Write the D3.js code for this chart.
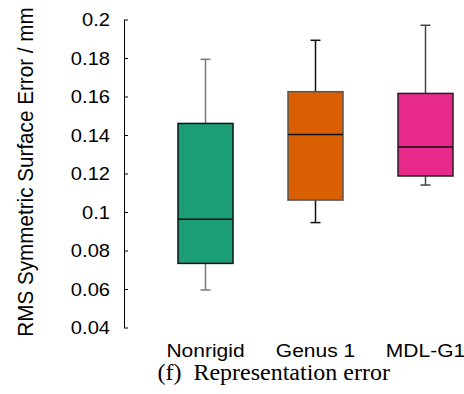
<!DOCTYPE html>
<html>
<head>
<meta charset="utf-8">
<script src="https://cdn.jsdelivr.net/npm/d3@7"></script>
<style>
  html, body { margin: 0; padding: 0; background: #fff; }
  svg { display: block; }
  text { white-space: pre; }
</style>
</head>
<body>
<svg id="chart" width="464" height="394"></svg>
<script>
// ---- data ----
const categories = ["Nonrigid", "Genus 1", "MDL-G1"];
const whiskerLow  = [0.0595, 0.0945, 0.1140];
const q1          = [0.0733, 0.1062, 0.1187];
const median      = [0.0962, 0.1403, 0.1338];
const q3          = [0.1460, 0.1625, 0.1616];
const whiskerHigh = [0.1793, 0.1892, 0.1970];
const colors      = ["#1b9e77", "#d95f02", "#e7298a"];
const whiskerColors = ["#7a7a7a", "#111111", "#444444"];
const boxStrokes  = ["#111111", "#555555", "#222222"];
const yTicks = [0.04, 0.06, 0.08, 0.1, 0.12, 0.14, 0.16, 0.18, 0.2];
const yLabel = "RMS Symmetric Surface Error / mm";
const caption = "(f)  Representation error";

const svg = d3.select("#chart");

const y = d3.scaleLinear().domain([0.04, 0.2]).range([327.5, 19.5]);
const x = d3.scalePoint().domain(categories).range([205.5, 425.5]);
const step = x.step();
const boxW = step * 0.5;
const capW = 10;
const axisX = 124;

// y axis
const axis = d3.axisLeft(y)
  .tickValues(yTicks)
  .tickSizeInner(-4)
  .tickSizeOuter(0)
  .tickPadding(14)
  .tickFormat(d => String(+d.toFixed(2)));

const gAxis = svg.append("g")
  .attr("transform", `translate(${axisX},0)`)
  .call(axis);
gAxis.select(".domain").attr("stroke", "#000").attr("stroke-width", 1);
gAxis.selectAll(".tick line").attr("stroke", "#000");
const tsx = 1.15;
gAxis.selectAll(".tick text")
  .attr("font-family", "'Liberation Sans', Arial, sans-serif")
  .attr("font-size", 17.5)
  .attr("fill", "#000")
  .attr("x", -14 / tsx)
  .attr("dy", "0.36em")
  .attr("transform", `scale(${tsx},1)`);
gAxis.attr("font-size", null).attr("font-family", null);

// boxes
const data = categories.map((c, i) => ({
  c, lo: whiskerLow[i], q1: q1[i], med: median[i], q3: q3[i], hi: whiskerHigh[i],
  fill: colors[i], wc: whiskerColors[i], bc: boxStrokes[i]
}));

const g = svg.append("g");
const box = g.selectAll("g.box").data(data).join("g").attr("class", "box");

// whiskers
box.append("line")
  .attr("x1", d => x(d.c)).attr("x2", d => x(d.c))
  .attr("y1", d => y(d.hi)).attr("y2", d => y(d.q3))
  .attr("stroke", d => d.wc).attr("stroke-width", 1.5);
box.append("line")
  .attr("x1", d => x(d.c)).attr("x2", d => x(d.c))
  .attr("y1", d => y(d.q1)).attr("y2", d => y(d.lo))
  .attr("stroke", d => d.wc).attr("stroke-width", 1.5);
box.append("line")
  .attr("x1", d => x(d.c) - capW / 2).attr("x2", d => x(d.c) + capW / 2)
  .attr("y1", d => y(d.hi)).attr("y2", d => y(d.hi))
  .attr("stroke", d => d.wc).attr("stroke-width", 1.5);
box.append("line")
  .attr("x1", d => x(d.c) - capW / 2).attr("x2", d => x(d.c) + capW / 2)
  .attr("y1", d => y(d.lo)).attr("y2", d => y(d.lo))
  .attr("stroke", d => d.wc).attr("stroke-width", 1.5);

// box rect
box.append("rect")
  .attr("x", d => x(d.c) - boxW / 2)
  .attr("width", boxW)
  .attr("y", d => y(d.q3))
  .attr("height", d => y(d.q1) - y(d.q3))
  .attr("fill", d => d.fill)
  .attr("stroke", d => d.bc)
  .attr("stroke-width", 1.5);

// median
box.append("line")
  .attr("x1", d => x(d.c) - boxW / 2).attr("x2", d => x(d.c) + boxW / 2)
  .attr("y1", d => y(d.med)).attr("y2", d => y(d.med))
  .attr("stroke", "#111").attr("stroke-width", 1.5);

// x labels
const xsx = 1.2;
svg.append("g").selectAll("text").data(categories).join("text")
  .attr("font-family", "'Liberation Sans', Arial, sans-serif")
  .attr("font-size", 17.5)
  .attr("text-anchor", "middle")
  .attr("fill", "#000")
  .attr("transform", d => `translate(${x(d)},356.5) scale(${xsx},1)`)
  .text(d => d);

// y label
svg.append("text")
  .attr("font-family", "'Liberation Sans', Arial, sans-serif")
  .attr("font-size", 19.5)
  .attr("text-anchor", "middle")
  .attr("fill", "#000")
  .attr("transform", "translate(33,172) rotate(-90) scale(1.06,1.14)")
  .text(yLabel);

// caption
svg.append("text")
  .attr("font-family", "'Liberation Serif', 'Times New Roman', serif")
  .attr("font-size", 24)
  .attr("text-anchor", "middle")
  .attr("fill", "#000")
  .attr("x", 273.7)
  .attr("y", 379.5)
  .text(caption);
</script>
</body>
</html>
